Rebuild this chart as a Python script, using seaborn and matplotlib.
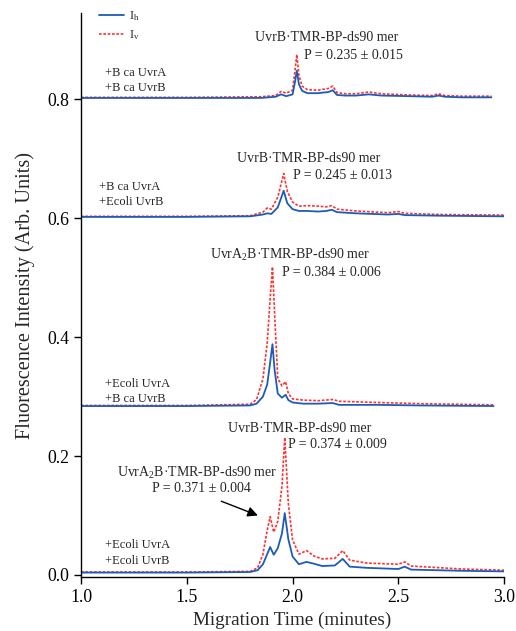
import matplotlib
matplotlib.use("Agg")
import matplotlib.pyplot as plt
import seaborn as sns
import pandas as pd
from matplotlib.lines import Line2D
from matplotlib.ticker import FormatStrFormatter

# ---------------- data ----------------
# Trace 1: +B ca UvrA / +B ca UvrB
t1 = [1.00, 1.50, 1.85, 1.92, 1.946, 1.97, 2.00, 2.012, 2.02, 2.03, 2.045, 2.07, 2.12,
      2.17, 2.19, 2.21, 2.25, 2.30, 2.36, 2.42, 2.55, 2.66, 2.69, 2.72, 2.80, 2.94]
h1 = [0.802, 0.802, 0.802, 0.804, 0.808, 0.805, 0.808, 0.830, 0.848, 0.825, 0.814, 0.810, 0.810,
      0.812, 0.815, 0.807, 0.806, 0.806, 0.808, 0.806, 0.805, 0.804, 0.806, 0.804, 0.803, 0.803]
v1 = [0.803, 0.803, 0.804, 0.806, 0.813, 0.810, 0.815, 0.850, 0.875, 0.840, 0.822, 0.816, 0.815,
      0.818, 0.822, 0.811, 0.809, 0.809, 0.812, 0.809, 0.807, 0.806, 0.809, 0.806, 0.805, 0.805]

# Trace 2: +B ca UvrA / +Ecoli UvrB
t2 = [1.00, 1.50, 1.80, 1.86, 1.88, 1.90, 1.93, 1.958, 1.975, 2.00, 2.03, 2.07, 2.12,
      2.16, 2.185, 2.21, 2.30, 2.45, 2.50, 2.53, 2.70, 3.00]
h2 = [0.602, 0.602, 0.603, 0.606, 0.608, 0.607, 0.618, 0.646, 0.625, 0.615, 0.612, 0.612, 0.611,
      0.612, 0.614, 0.610, 0.608, 0.606, 0.607, 0.605, 0.604, 0.603]
v2 = [0.603, 0.603, 0.604, 0.610, 0.617, 0.615, 0.635, 0.675, 0.645, 0.627, 0.620, 0.621, 0.620,
      0.619, 0.621, 0.615, 0.612, 0.609, 0.611, 0.608, 0.606, 0.605]

# Trace 3: +Ecoli UvrA / +B ca UvrB
t3 = [1.00, 1.50, 1.80, 1.83, 1.86, 1.88, 1.895, 1.905, 1.915, 1.93, 1.95, 1.967, 1.98,
      2.00, 2.05, 2.12, 2.19, 2.22, 2.40, 2.60, 2.95]
h3 = [0.284, 0.284, 0.285, 0.288, 0.300, 0.320, 0.360, 0.388, 0.345, 0.305, 0.298, 0.303, 0.294,
      0.290, 0.288, 0.288, 0.289, 0.286, 0.286, 0.285, 0.284]
v3 = [0.285, 0.285, 0.287, 0.295, 0.330, 0.390, 0.470, 0.518, 0.440, 0.330, 0.318, 0.325, 0.305,
      0.296, 0.294, 0.293, 0.295, 0.292, 0.290, 0.288, 0.286]

# Trace 4: +Ecoli UvrA / +Ecoli UvrB
t4 = [1.00, 1.50, 1.80, 1.835, 1.86, 1.88, 1.894, 1.911, 1.93, 1.95, 1.963, 1.98, 2.00,
      2.03, 2.066, 2.10, 2.14, 2.20, 2.237, 2.27, 2.35, 2.50, 2.53, 2.56, 2.80, 3.00]
h4 = [0.004, 0.004, 0.005, 0.008, 0.018, 0.035, 0.047, 0.034, 0.045, 0.070, 0.104, 0.060, 0.031,
      0.018, 0.022, 0.019, 0.015, 0.016, 0.027, 0.014, 0.012, 0.010, 0.014, 0.009, 0.007, 0.006]
v4 = [0.005, 0.005, 0.006, 0.012, 0.035, 0.075, 0.098, 0.072, 0.090, 0.150, 0.231, 0.120, 0.059,
      0.035, 0.041, 0.032, 0.027, 0.028, 0.041, 0.025, 0.020, 0.018, 0.022, 0.015, 0.010, 0.008]

traces = [(t1, h1, v1), (t2, h2, v2), (t3, h3, v3), (t4, h4, v4)]

x_ticks = [1.0, 1.5, 2.0, 2.5, 3.0]
y_ticks = [0.0, 0.2, 0.4, 0.6, 0.8]

# ---------------- style ----------------
sns.set_style("ticks")
plt.rcParams["font.family"] = ["Liberation Serif", "DejaVu Serif"]
plt.rcParams["mathtext.fontset"] = "custom"
plt.rcParams["mathtext.rm"] = "Liberation Serif"
plt.rcParams["mathtext.it"] = "Liberation Serif:italic"

BLUE = "#1c5cb8"
RED = "#ff3030"

fig = plt.figure(figsize=(5.16, 6.31), dpi=100)
ax = fig.add_axes([0.157, 0.0856, 0.820, 0.8935])

for t, h, v in traces:
    sns.lineplot(x=t, y=v, ax=ax, color=RED, lw=1.2, linestyle=(0, (1.6, 1.0)),
                 sort=False, estimator=None)
    sns.lineplot(x=t, y=h, ax=ax, color=BLUE, lw=1.3, sort=False, estimator=None)

ax.set_xlim(1.0, 3.0)
ax.set_ylim(-0.0034, 0.9445)
ax.set_xticks(x_ticks)
ax.set_yticks(y_ticks)
ax.xaxis.set_major_formatter(FormatStrFormatter("%.1f"))
ax.yaxis.set_major_formatter(FormatStrFormatter("%.1f"))
ax.tick_params(direction="out", length=5, width=1, labelsize=12.8, colors="black")
for s in ["top", "right"]:
    ax.spines[s].set_visible(False)
for s in ["left", "bottom"]:
    ax.spines[s].set_linewidth(1.0)
    ax.spines[s].set_color("black")

ax.set_xlabel("Migration Time (minutes)", fontsize=13.8, labelpad=4)
ax.set_ylabel("Fluorescence Intensity (Arb. Units)", fontsize=14.6, labelpad=9)

# legend
handles = [Line2D([], [], color=BLUE, lw=1.3),
           Line2D([], [], color=RED, lw=1.2, linestyle=(0, (1.6, 1.0)))]
ax.legend(handles, [r"I$_{\rm h}$", r"I$_{\rm v}$"], loc="upper left",
          bbox_to_anchor=(0.015, 1.027), frameon=False, fontsize=9,
          handlelength=2.0, handletextpad=0.4, labelspacing=0.4)

fs_lab = 10
fs_grp = 9
# trace 1
ax.text(2.161, 0.904, "UvrB·TMR-BP-ds90 mer", ha="center", va="center", fontsize=fs_lab)
ax.text(2.052, 0.874, "P = 0.235 ± 0.015", ha="left", va="center", fontsize=fs_lab)
ax.text(1.114, 0.832, "+B ca UvrA\n+B ca UvrB", ha="left", va="center", fontsize=fs_grp,
        linespacing=1.35)
# trace 2
ax.text(2.076, 0.701, "UvrB·TMR-BP-ds90 mer", ha="center", va="center", fontsize=fs_lab)
ax.text(2.000, 0.671, "P = 0.245 ± 0.013", ha="left", va="center", fontsize=fs_lab)
ax.text(1.085, 0.639, "+B ca UvrA\n+Ecoli UvrB", ha="left", va="center", fontsize=fs_grp,
        linespacing=1.35)
# trace 3
ax.text(1.986, 0.538, "UvrA$_2$B·TMR-BP-ds90 mer", ha="center", va="center", fontsize=fs_lab)
ax.text(1.952, 0.509, "P = 0.384 ± 0.006", ha="left", va="center", fontsize=fs_lab)
ax.text(1.114, 0.309, "+Ecoli UvrA\n+B ca UvrB", ha="left", va="center", fontsize=fs_grp,
        linespacing=1.35)
# trace 4
ax.text(2.033, 0.247, "UvrB·TMR-BP-ds90 mer", ha="center", va="center", fontsize=fs_lab)
ax.text(1.978, 0.220, "P = 0.374 ± 0.009", ha="left", va="center", fontsize=fs_lab)
ax.text(1.550, 0.171, "UvrA$_2$B·TMR-BP-ds90 mer", ha="center", va="center", fontsize=fs_lab)
ax.text(1.567, 0.146, "P = 0.371 ± 0.004", ha="center", va="center", fontsize=fs_lab)
ax.annotate("", xy=(1.836, 0.100), xytext=(1.663, 0.124),
            arrowprops=dict(arrowstyle="-|>", color="black", lw=1.0,
                            mutation_scale=15, shrinkA=0, shrinkB=0))
ax.text(1.114, 0.037, "+Ecoli UvrA\n+Ecoli UvrB", ha="left", va="center", fontsize=fs_grp,
        linespacing=1.35)

fig.savefig("out.png", dpi=100)
